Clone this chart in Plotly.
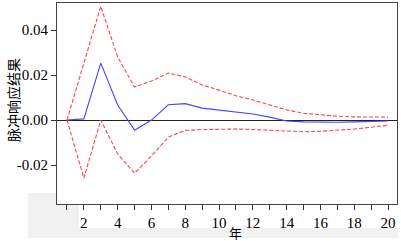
import plotly.graph_objects as go

years = list(range(1, 21))
response = [0.0, 0.0005, 0.0253, 0.0067, -0.0045, 0.0, 0.0068, 0.0073, 0.0053, 0.0044,
            0.0036, 0.0027, 0.0013, -0.0004, -0.0008, -0.001, -0.001, -0.0008, -0.0005, -0.0004]
upper = [0.0, 0.025, 0.0505, 0.028, 0.0147, 0.0173, 0.0209, 0.0192, 0.0156, 0.0133,
         0.0108, 0.0089, 0.0068, 0.0045, 0.003, 0.0022, 0.0017, 0.0014, 0.0013, 0.0013]
lower = [0.0, -0.0258, 0.0, -0.015, -0.0236, -0.016, -0.0076, -0.0046, -0.0042, -0.004,
         -0.004, -0.0042, -0.0045, -0.005, -0.0052, -0.005, -0.0046, -0.004, -0.0032, -0.0023]

W, H = 401, 241
L, R, T, B = 57, 4, 3, 37
PW, PH = W - L - R, H - T - B

fig = go.Figure()
fig.add_trace(go.Scatter(x=years, y=upper, mode="lines",
                         line=dict(color="#ff4545", width=1.1, dash="4px,2px"), showlegend=False))
fig.add_trace(go.Scatter(x=years, y=lower, mode="lines",
                         line=dict(color="#ff4545", width=1.1, dash="4px,2px"), showlegend=False))
fig.add_trace(go.Scatter(x=years, y=response, mode="lines",
                         line=dict(color="#4444ff", width=1.1), showlegend=False))

shapes = []
for (x0, y0, x1, y1) in [(28, 193, 57, 238), (57, 205, 79, 238), (79, 228, 398, 238)]:
    shapes.append(dict(type="rect", xref="paper", yref="paper",
                       x0=(x0 - L) / PW, x1=(x1 - L) / PW,
                       y0=(H - B - y1) / PH, y1=(H - B - y0) / PH,
                       fillcolor="#f1f1f1", line=dict(width=0), layer="below"))

font = "Liberation Serif"
fig.update_layout(
    width=W, height=H,
    margin=dict(l=L, r=R, t=T, b=B, autoexpand=False),
    paper_bgcolor="white", plot_bgcolor="white",
    font=dict(family=font, color="black", size=15),
    shapes=shapes,
    xaxis=dict(range=[0.41, 20.53], tick0=0, dtick=2, ticks="outside", ticklen=5,
               tickcolor="#333", showgrid=False, zeroline=False, automargin=False,
               showline=True, linecolor="#444", linewidth=1, mirror=True,
               minor=dict(dtick=1, tick0=0, ticks="outside", ticklen=5, tickcolor="#333"),
               tickfont=dict(size=15, family=font)),
    yaxis=dict(range=[-0.0373, 0.052], tickvals=[-0.02, 0, 0.02, 0.04],
               ticktext=["-0.02", "0.00", "0.02", "0.04"], automargin=False,
               ticks="outside", ticklen=5, tickcolor="#333", showgrid=False,
               zeroline=True, zerolinecolor="#222", zerolinewidth=1,
               showline=True, linecolor="#444", linewidth=1, mirror=True,
               tickfont=dict(size=15, family=font)),
    annotations=[
        dict(text="年", xref="paper", yref="paper", x=(235 - L) / PW,
             y=(H - B - 233) / PH, xanchor="center", yanchor="middle", showarrow=False,
             font=dict(size=13, family="Noto Sans CJK SC")),
        dict(text="脉冲响应结果", xref="paper", yref="paper", x=(13 - L) / PW,
             y=(H - B - 100) / PH, xanchor="center", yanchor="middle", showarrow=False,
             textangle=-90, font=dict(size=14, family="Noto Sans CJK SC")),
    ],
)

fig.write_html("out.html", config={"displayModeBar": False},
               post_script="document.body.style.margin='0';")
